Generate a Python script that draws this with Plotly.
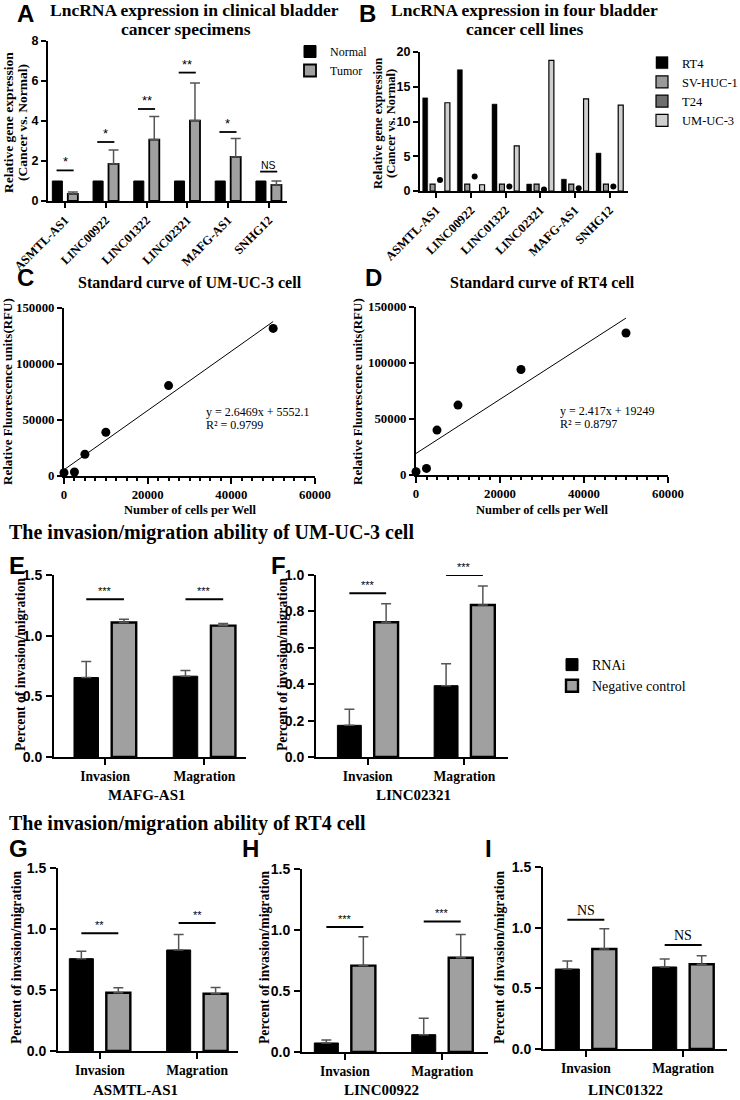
import plotly.graph_objects as go

W, H = 740, 1100
SERIF = "Liberation Serif"
SANS = "Liberation Sans"

# ---------------- data ----------------
a_cats = ["ASMTL-AS1", "LINC00922", "LINC01322", "LINC02321", "MAFG-AS1", "SNHG12"]
a_normal = [1, 1, 1, 1, 1, 1]
a_tumor = [0.35, 1.85, 3.07, 4.02, 2.2, 0.8]
a_tumor_top = [0.45, 2.55, 4.23, 5.9, 3.12, 1.0]
a_sig_y = [1.53, 2.95, 4.6, 6.42, 3.45, 1.47]
a_sig = ["*", "*", "**", "**", "*", "NS"]

b_cats = a_cats
b_rt4 = [13.4, 17.45, 12.5, 1.0, 1.7, 5.45]
b_sv = [1, 1, 1, 1, 1, 1]
b_t24 = [1.6, 2.07, 0.65, 0.2, 0.4, 0.65]
b_um = [12.7, 0.9, 6.5, 18.8, 13.25, 12.35]

cells = [0, 2500, 5000, 10000, 25000, 50000]
c_rfu = [3000, 3600, 19400, 39100, 80700, 131800]
c_slope, c_int, c_r2 = 2.6469, 5552.1, 0.9799
d_rfu = [3000, 5900, 40100, 62400, 94200, 126800]
d_slope, d_int, d_r2 = 2.417, 19249, 0.8797

inv_cats = ["Invasion", "Magration"]
e_rnai, e_rnai_top = [0.655, 0.666], [0.787, 0.713]
e_nc, e_nc_top = [1.108, 1.083], [1.135, 1.10]
e_sig_y, e_sig = [1.3, 1.3], ["***", "***"]

f_rnai, f_rnai_top = [0.174, 0.392], [0.263, 0.513]
f_nc, f_nc_top = [0.74, 0.835], [0.842, 0.94]
f_sig_y, f_sig = [0.9, 1.0], ["***", "***"]

g_rnai, g_rnai_top = [0.757, 0.828], [0.817, 0.954]
g_nc, g_nc_top = [0.477, 0.469], [0.518, 0.521]
g_sig_y, g_sig = [0.965, 1.05], ["**", "**"]

h_rnai, h_rnai_top = [0.074, 0.142], [0.098, 0.276]
h_nc, h_nc_top = [0.708, 0.773], [0.945, 0.964]
h_sig_y, h_sig = [1.025, 1.07], ["***", "***"]

i_rnai, i_rnai_top = [0.659, 0.676], [0.725, 0.742]
i_nc, i_nc_top = [0.824, 0.698], [0.992, 0.769]
i_sig_y, i_sig = [1.066, 0.857], ["NS", "NS"]

# ---------------- helpers ----------------
def xd(x0, x1):
    return [x0 / W, x1 / W]

def yd(y0, y1):
    return [1 - y1 / H, 1 - y0 / H]

def px(x):
    return x / W

def py(y):
    return 1 - y / H

def f(family, size, bold=True):
    d = dict(family=family, size=size, color="black")
    if bold:
        d["weight"] = "bold"
    return d

common = dict(showline=True, linewidth=2, linecolor="black", ticks="outside",
              ticklen=5, tickwidth=2, tickcolor="black", showgrid=False,
              zeroline=False, fixedrange=True, automargin=False)

GREY = "#a0a0a0"
ERR = "#555555"

def err(vals, tops):
    return dict(type="data", symmetric=False,
                array=[t - v for v, t in zip(vals, tops)],
                arrayminus=[0] * len(vals), color=ERR, thickness=1.5, width=5)

fig = go.Figure()
annotations = []
shapes = []

def ann(text, x, y, size, family=SERIF, bold=True, angle=0, xanchor="center",
        yanchor="middle", xref="paper", yref="paper", align="center"):
    if xref == "paper":
        x = px(x)
    if yref == "paper":
        y = py(y)
    annotations.append(dict(text=text, x=x, y=y, xref=xref, yref=yref,
                            showarrow=False, textangle=angle, xanchor=xanchor,
                            yanchor=yanchor, align=align, font=f(family, size, bold)))

# ---------------- Panel A ----------------
fig.add_trace(go.Bar(x=a_cats, y=a_normal, name="Normal", legend="legend",
                     marker=dict(color="black", line=dict(color="black", width=1)),
                     xaxis="x", yaxis="y"))
fig.add_trace(go.Bar(x=a_cats, y=a_tumor, name="Tumor", legend="legend",
                     marker=dict(color=GREY, line=dict(color="black", width=1.8)),
                     error_y=err(a_tumor, a_tumor_top), xaxis="x", yaxis="y"))
for i, (yv, s) in enumerate(zip(a_sig_y, a_sig)):
    shapes.append(dict(type="line", xref="x", yref="y", x0=i - 0.21, x1=i + 0.21,
                       y0=yv, y1=yv, line=dict(color="black", width=1.8)))
    annotations.append(dict(text=s, x=i, y=yv, xref="x", yref="y", showarrow=False,
                            yanchor="bottom", yshift=-1,
                            font=f(SANS, 13 if s != "NS" else 10.5, bold=False)))

# ---------------- Panel B ----------------
bw = 0.144
b_series = [("RT4", b_rt4, "black", -0.32), ("SV-HUC-1", b_sv, "#9a9a9a", -0.107),
            ("T24", None, "#6e6e6e", 0.107), ("UM-UC-3", b_um, "#cfcfcf", 0.32)]
b_idx = list(range(len(b_cats)))
for name, vals, col, off in b_series:
    if vals is None:
        fig.add_trace(go.Bar(x=[None], y=[None], name=name, legend="legend2",
                             marker=dict(color=col, line=dict(color="black", width=1.2)),
                             xaxis="x2", yaxis="y2"))
    else:
        fig.add_trace(go.Bar(x=b_idx, y=vals, name=name, legend="legend2",
                             width=bw, offset=off - bw / 2,
                             marker=dict(color=col, line=dict(color="black", width=1.2 if col != "black" else 0.5)),
                             xaxis="x2", yaxis="y2"))
fig.add_trace(go.Scatter(x=[i + 0.107 for i in b_idx], y=b_t24, mode="markers",
                         marker=dict(color="black", size=6), showlegend=False,
                         cliponaxis=False, xaxis="x2", yaxis="y2"))

# ---------------- Panels C & D ----------------
for ax, rfu, slope, inter, r2, xtxt in [("3", c_rfu, c_slope, c_int, c_r2, 33500),
                                        ("4", d_rfu, d_slope, d_int, d_r2, 33800)]:
    fig.add_trace(go.Scatter(x=cells, y=rfu, mode="markers",
                             marker=dict(color="black", size=9), showlegend=False,
                             cliponaxis=False, xaxis="x" + ax, yaxis="y" + ax))
    xs = [cells[0], cells[-1]]
    fig.add_trace(go.Scatter(x=xs, y=[slope * v + inter for v in xs], mode="lines",
                             line=dict(color="black", width=1), showlegend=False,
                             xaxis="x" + ax, yaxis="y" + ax))
    annotations.append(dict(text=f"y = {slope}x + {inter}", x=xtxt, y=57000,
                            xref="x" + ax, yref="y" + ax, showarrow=False,
                            xanchor="left", font=f(SERIF, 12, bold=False)))
    annotations.append(dict(text=f"R² = {r2}", x=xtxt, y=45500,
                            xref="x" + ax, yref="y" + ax, showarrow=False,
                            xanchor="left", font=f(SERIF, 12, bold=False)))

# ---------------- Panels E-I ----------------
inv_panels = [("5", e_rnai, e_rnai_top, e_nc, e_nc_top, e_sig_y, e_sig, True),
              ("6", f_rnai, f_rnai_top, f_nc, f_nc_top, f_sig_y, f_sig, False),
              ("7", g_rnai, g_rnai_top, g_nc, g_nc_top, g_sig_y, g_sig, False),
              ("8", h_rnai, h_rnai_top, h_nc, h_nc_top, h_sig_y, h_sig, False),
              ("9", i_rnai, i_rnai_top, i_nc, i_nc_top, i_sig_y, i_sig, False)]
for ax, rn, rnt, nc, nct, sy, ss, leg in inv_panels:
    fig.add_trace(go.Bar(x=inv_cats, y=rn, name="RNAi", legend="legend3", showlegend=leg,
                         marker=dict(color="black", line=dict(color="black", width=1)),
                         error_y=err(rn, rnt), xaxis="x" + ax, yaxis="y" + ax))
    fig.add_trace(go.Bar(x=inv_cats, y=nc, name="Negative control", legend="legend3",
                         showlegend=leg,
                         marker=dict(color=GREY, line=dict(color="black", width=2.4)),
                         error_y=err(nc, nct), xaxis="x" + ax, yaxis="y" + ax))
    for i, (yv, s) in enumerate(zip(sy, ss)):
        shapes.append(dict(type="line", xref="x" + ax, yref="y" + ax,
                           x0=i - 0.19, x1=i + 0.19, y0=yv, y1=yv,
                           line=dict(color="black", width=2)))
        if s == "NS":
            fnt = f(SERIF, 14, bold=False)
        else:
            fnt = f(SANS, 11, bold=False)
        annotations.append(dict(text=s, x=i, y=yv, xref="x" + ax, yref="y" + ax,
                                showarrow=False, yanchor="bottom", yshift=0, font=fnt))

# ---------------- axes ----------------
lay = {}
lay["xaxis"] = dict(domain=xd(48, 287), anchor="y", type="category", range=[-0.42, 5.45],
                    tickangle=-45, tickfont=f(SERIF, 12.5), **common)
lay["yaxis"] = dict(domain=yd(41, 201), anchor="x", range=[0, 8], dtick=2,
                    tickfont=f(SANS, 12.5), **common)
lay["xaxis2"] = dict(domain=xd(420, 628), anchor="y2", range=[-0.47, 5.53],
                     tickvals=b_idx, ticktext=b_cats, tickangle=-45,
                     tickfont=f(SERIF, 12.5), **common)
lay["yaxis2"] = dict(domain=yd(52, 191), anchor="x2", range=[0, 20], dtick=5,
                     tickfont=f(SANS, 12.5), **common)
for ax, (x0, x1, y0, y1) in [("3", (64, 315, 308, 476)), ("4", (416, 668, 307, 475))]:
    lay["xaxis" + ax] = dict(domain=xd(x0, x1), anchor="y" + ax, range=[0, 60000],
                             dtick=20000, tickformat="d", tickfont=f(SERIF, 12.8),
                             minor=dict(ticks="outside", dtick=2500, ticklen=3,
                                        tickwidth=1.5, tickcolor="black"),
                             **{**common, "ticklen": 6})
    lay["yaxis" + ax] = dict(domain=yd(y0, y1), anchor="x" + ax, range=[0, 150000],
                             dtick=50000, tickformat="d", tickfont=f(SERIF, 12.8), **common)
inv_geo = {"5": (54, 246, 575, 757, [-0.515, 1.42], 1.5, 0.5),
           "6": (316, 508, 575, 757, [-0.535, 1.45], 1.0, 0.2),
           "7": (58, 238, 868, 1051, [-0.43, 1.42], 1.5, 0.5),
           "8": (302, 488, 869, 1052, [-0.44, 1.47], 1.5, 0.5),
           "9": (543, 727, 867, 1049, [-0.44, 1.45], 1.5, 0.5)}
for ax, (x0, x1, y0, y1, xr, ymax, dt) in inv_geo.items():
    lay["xaxis" + ax] = dict(domain=xd(x0, x1), anchor="y" + ax, type="category",
                             range=xr, tickfont=f(SERIF, 13.6), **{**common, "ticklen": 6})
    lay["yaxis" + ax] = dict(domain=yd(y0, y1), anchor="x" + ax, range=[0, ymax],
                             dtick=dt, tickformat=".1f", tickfont=f(SANS, 14),
                             ticklabelstandoff=1, **{**common, "ticklen": 6})

# ---------------- text ----------------
for letter, x, y in [("A", 25, 13), ("B", 367, 13), ("C", 25, 277), ("D", 374, 277),
                     ("E", 17, 565), ("F", 278, 565), ("G", 18, 848), ("H", 250, 848),
                     ("I", 488, 848)]:
    ann(letter, x, y, 24, family=SANS)

ann("LncRNA expression in clinical bladder", 195, 10, 17.5)
ann("cancer specimens", 186, 29, 17.5)
ann("LncRNA expression in four bladder", 524, 10, 17.5)
ann("cancer cell lines", 524, 29, 17.5)
ann("Relative gene expression", 8, 123, 13.5, angle=-90)
ann("(Cancer vs. Normal)", 22, 123, 13.5, angle=-90)
ann("Relative gene expression", 378, 124, 12.6, angle=-90)
ann("(Cancer vs. Normal)", 391, 124, 12.6, angle=-90)

ann("Standard curve of UM-UC-3 cell", 190, 282, 16)
ann("Standard curve of RT4 cell", 542, 282, 16)
ann("Relative Fluorescence units(RFU)", 7, 392, 13, angle=-90)
ann("Relative Fluorescence units(RFU)", 357, 392, 13, angle=-90)
ann("Number of cells per Well", 190, 510, 12.5)
ann("Number of cells per Well", 542, 510, 12.5)

ann("The invasion/migration ability of UM-UC-3 cell", 7, 532, 20, xanchor="left")
ann("The invasion/migration ability of RT4 cell", 7, 823, 20, xanchor="left")

ann("Percent of invasion/migration", 20, 665, 13.7, angle=-90)
ann("Percent of invasion/migration", 282, 665, 13.7, angle=-90)
ann("Percent of invasion/migration", 17, 958, 13.7, angle=-90)
ann("Percent of invasion/migration", 265, 958, 13.7, angle=-90)
ann("Percent of invasion/migration", 500, 958, 13.7, angle=-90)

ann("MAFG-AS1", 147, 795, 15)
ann("LINC02321", 414, 795, 15)
ann("ASMTL-AS1", 135, 1090, 15)
ann("LINC00922", 382, 1090, 15)
ann("LINC01322", 625, 1090, 15)

legend_common = dict(bgcolor="rgba(0,0,0,0)", xanchor="left", yanchor="top",
                     tracegroupgap=0, itemclick=False, itemdoubleclick=False)
fig.update_layout(
    width=W, height=H, margin=dict(l=0, r=0, t=0, b=0, autoexpand=False),
    paper_bgcolor="white", plot_bgcolor="white",
    barmode="group", bargap=0.24, bargroupgap=0.35,
    showlegend=True,
    legend=dict(x=px(290), y=py(37), font=f(SERIF, 12, bold=False), **legend_common),
    legend2=dict(x=px(642), y=py(48), font=f(SERIF, 12.5, bold=False), **legend_common),
    legend3=dict(x=px(552), y=py(649), font=f(SERIF, 14, bold=False), **legend_common),
    annotations=annotations, shapes=shapes,
    **lay,
)

fig.write_html("out.html", config={"displayModeBar": False},
               post_script="document.body.style.margin='0';document.body.style.overflow='hidden';")
